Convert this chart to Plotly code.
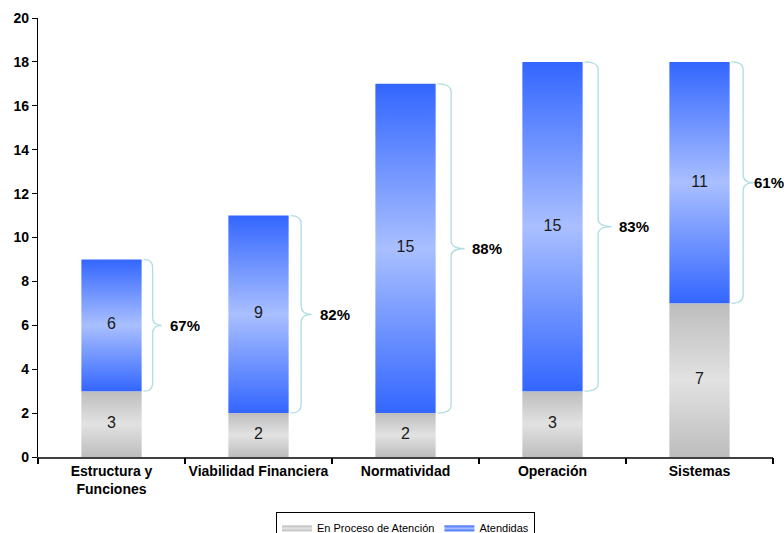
import plotly.graph_objects as go

categories = ["Estructura y<br>Funciones", "Viabilidad Financiera", "Normatividad", "Operación", "Sistemas"]
en_proceso = [3, 2, 2, 3, 7]
atendidas = [6, 9, 15, 15, 11]
series_names = ["En Proceso de Atención", "Atendidas"]

W = 0.41          # bar width (category units)
PX = 147.1        # pixels per category unit (for brace sizing)
PY = 21.95        # pixels per y unit
FONT = "Liberation Sans, Arial, sans-serif"
label_gap_px = [6, 6, 5, 5, -3]   # gap between brace tip and percentage label

gray_scale = [[0, "#BDBDBD"], [0.5, "#E2E2E2"], [1, "#BDBDBD"]]
blue_scale = [[0, "#3366FF"], [0.5, "#A9BFFF"], [1, "#3366FF"]]

fig = go.Figure()

for s, (vals, bases, cs, name) in enumerate([
    (en_proceso, [0] * len(en_proceso), gray_scale, series_names[0]),
    (atendidas, en_proceso, blue_scale, series_names[1]),
]):
    for i, (v, b) in enumerate(zip(vals, bases)):
        x0, x1 = i - W / 2, i + W / 2
        fig.add_trace(go.Scatter(
            x=[x0, x1, x1, x0, x0], y=[b, b, b + v, b + v, b],
            mode="lines", fill="toself", line=dict(width=0),
            fillgradient=dict(type="vertical", colorscale=cs),
            fillcolor=cs[1][1],
            name=name, legendgroup=name, showlegend=(i == 0),
            hoverinfo="skip", xaxis="x", yaxis="y",
        ))

# value labels
lx, ly, lt = [], [], []
for i in range(len(categories)):
    lx += [i, i]
    ly += [en_proceso[i] / 2, en_proceso[i] + atendidas[i] / 2]
    lt += [str(en_proceso[i]), str(atendidas[i])]
fig.add_trace(go.Scatter(x=lx, y=ly, text=lt, mode="text", showlegend=False,
                         textfont=dict(family=FONT, size=16, color="#1a1a1a"),
                         hoverinfo="skip"))

# invisible trace for boundary-tick axis
fig.add_trace(go.Scatter(x=[0], y=[0], xaxis="x2", mode="markers",
                         marker=dict(opacity=0), showlegend=False, hoverinfo="skip"))

# braces and percentages
shapes = []
annotations = []
for i in range(len(categories)):
    ybot = en_proceso[i]
    ytop = en_proceso[i] + atendidas[i]
    ymid = (ybot + ytop) / 2
    x0 = i + W / 2 + 2 / PX
    d = (12 + atendidas[i]) / PX
    xm = x0 + d / 2
    r = 8 / PY
    path = (f"M {x0},{ytop} Q {xm},{ytop} {xm},{ytop - r} "
            f"L {xm},{ymid + r} Q {xm},{ymid} {x0 + d},{ymid} "
            f"Q {xm},{ymid} {xm},{ymid - r} "
            f"L {xm},{ybot + r} Q {xm},{ybot} {x0},{ybot}")
    shapes.append(dict(type="path", path=path, xref="x", yref="y",
                       line=dict(color="#AEDDE2", width=1.3)))
    pct = round(100 * atendidas[i] / (en_proceso[i] + atendidas[i]))
    annotations.append(dict(x=x0 + d + label_gap_px[i] / PX, y=ymid, xref="x", yref="y",
                            text=f"<b>{pct}%</b>", showarrow=False,
                            xanchor="left", yanchor="middle",
                            font=dict(family=FONT, size=15, color="black")))

n = len(categories)
fig.update_layout(
    width=784, height=533,
    margin=dict(l=38, r=10.5, t=18, b=76, autoexpand=False),
    paper_bgcolor="white", plot_bgcolor="white",
    shapes=shapes, annotations=annotations,
    showlegend=True,
    legend=dict(orientation="h", x=0.5, xanchor="center", y=-0.125, yanchor="top",
                bordercolor="black", borderwidth=1, itemwidth=30,
                font=dict(family=FONT, size=11, color="black"),
                traceorder="normal", tracegroupgap=0),
    xaxis=dict(range=[-0.5, n - 0.5], tickvals=list(range(n)),
               ticktext=[f"<b>{c}</b>" for c in categories],
               ticks="", showline=True, linecolor="#404040", linewidth=2,
               showgrid=False, zeroline=False, automargin=False,
               tickfont=dict(family=FONT, size=14, color="black")),
    xaxis2=dict(overlaying="x", matches="x", range=[-0.5, n - 0.5],
                tickvals=[k - 0.5 for k in range(n + 1)],
                ticks="outside", ticklen=6, tickwidth=1.5, tickcolor="black",
                showticklabels=False, showgrid=False, zeroline=False, side="bottom",
                anchor="y", automargin=False),
    yaxis=dict(range=[0, 20], dtick=2, ticks="outside", ticklen=5, tickcolor="black",
               showline=True, linecolor="black", linewidth=1.3,
               showgrid=False, zeroline=False, automargin=False,
               tickfont=dict(family=FONT, size=14, color="black"),
               tickprefix="<b>", ticksuffix="</b>"),
)

fig.write_html("out.html", config={"displayModeBar": False},
               post_script="document.body.style.margin='0';document.body.style.overflow='hidden';")
